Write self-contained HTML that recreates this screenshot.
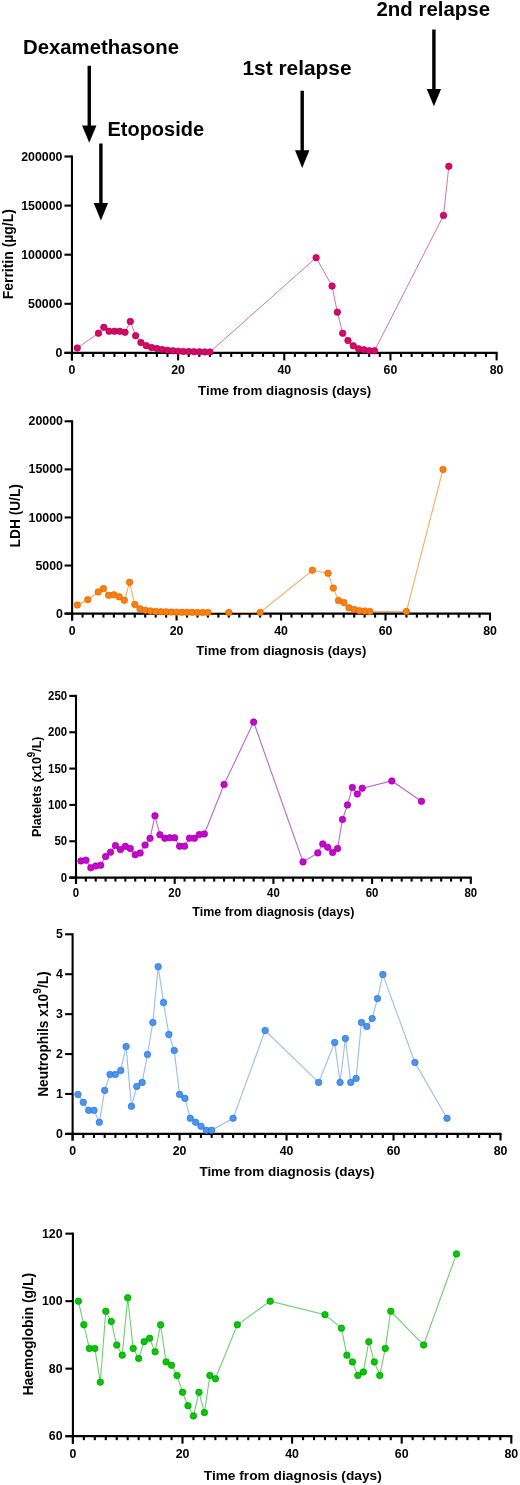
<!DOCTYPE html>
<html><head><meta charset="utf-8"><style>
html,body{margin:0;padding:0;background:#fff;}
svg{display:block;will-change:transform;}
text{font-family:"Liberation Sans",sans-serif;font-weight:bold;fill:#000;}
</style></head><body>
<svg width="520" height="1485" viewBox="0 0 520 1485">
<text x="23" y="53.8" font-size="19.5" text-anchor="start" textLength="156" lengthAdjust="spacingAndGlyphs">Dexamethasone</text>
<text x="107.5" y="136.25" font-size="19.5" text-anchor="start" textLength="96.5" lengthAdjust="spacingAndGlyphs">Etoposide</text>
<text x="242.5" y="75" font-size="19.5" text-anchor="start" textLength="109" lengthAdjust="spacingAndGlyphs">1st relapse</text>
<text x="376.5" y="15.5" font-size="19.5" text-anchor="start" textLength="113.5" lengthAdjust="spacingAndGlyphs">2nd relapse</text>
<rect x="87.55" y="65.75" width="3.4" height="60.85" fill="#000"/>
<polygon points="82.05,125.6 96.45,125.6 89.25,142.75" fill="#000"/>
<rect x="99.2" y="143.5" width="3.4" height="60.6" fill="#000"/>
<polygon points="93.7,203.1 108.1,203.1 100.9,220.6" fill="#000"/>
<rect x="300.5" y="90.75" width="3.4" height="60.5" fill="#000"/>
<polygon points="295,150.25 309.4,150.25 302.2,167.9" fill="#000"/>
<rect x="432.2" y="29.5" width="3.4" height="60.5" fill="#000"/>
<polygon points="426.7,89 441.1,89 433.9,106.25" fill="#000"/>
<line x1="71.95" y1="155.45" x2="71.95" y2="360.4" stroke="#000" stroke-width="2.1"/>
<line x1="64.45" y1="352.9" x2="497.65" y2="352.9" stroke="#000" stroke-width="2.1"/>
<line x1="64.45" y1="352.9" x2="71.95" y2="352.9" stroke="#000" stroke-width="2.1"/>
<text transform="translate(62.4,357) scale(1.03,1)" font-size="12" text-anchor="end">0</text>
<line x1="64.45" y1="303.8" x2="71.95" y2="303.8" stroke="#000" stroke-width="2.1"/>
<text transform="translate(62.4,307.9) scale(1.03,1)" font-size="12" text-anchor="end">50000</text>
<line x1="64.45" y1="254.7" x2="71.95" y2="254.7" stroke="#000" stroke-width="2.1"/>
<text transform="translate(62.4,258.8) scale(1.03,1)" font-size="12" text-anchor="end">100000</text>
<line x1="64.45" y1="205.6" x2="71.95" y2="205.6" stroke="#000" stroke-width="2.1"/>
<text transform="translate(62.4,209.7) scale(1.03,1)" font-size="12" text-anchor="end">150000</text>
<line x1="64.45" y1="156.5" x2="71.95" y2="156.5" stroke="#000" stroke-width="2.1"/>
<text transform="translate(62.4,160.6) scale(1.03,1)" font-size="12" text-anchor="end">200000</text>
<line x1="71.95" y1="352.9" x2="71.95" y2="360.4" stroke="#000" stroke-width="2.1"/>
<text transform="translate(71.95,374) scale(1.03,1)" font-size="12" text-anchor="middle">0</text>
<line x1="82.57" y1="352.9" x2="82.57" y2="356.9" stroke="#000" stroke-width="2.1"/>
<line x1="93.18" y1="352.9" x2="93.18" y2="356.9" stroke="#000" stroke-width="2.1"/>
<line x1="103.8" y1="352.9" x2="103.8" y2="356.9" stroke="#000" stroke-width="2.1"/>
<line x1="114.42" y1="352.9" x2="114.42" y2="356.9" stroke="#000" stroke-width="2.1"/>
<line x1="125.03" y1="352.9" x2="125.03" y2="356.9" stroke="#000" stroke-width="2.1"/>
<line x1="135.65" y1="352.9" x2="135.65" y2="356.9" stroke="#000" stroke-width="2.1"/>
<line x1="146.26" y1="352.9" x2="146.26" y2="356.9" stroke="#000" stroke-width="2.1"/>
<line x1="156.88" y1="352.9" x2="156.88" y2="356.9" stroke="#000" stroke-width="2.1"/>
<line x1="167.5" y1="352.9" x2="167.5" y2="356.9" stroke="#000" stroke-width="2.1"/>
<line x1="178.11" y1="352.9" x2="178.11" y2="360.4" stroke="#000" stroke-width="2.1"/>
<text transform="translate(178.11,374) scale(1.03,1)" font-size="12" text-anchor="middle">20</text>
<line x1="188.73" y1="352.9" x2="188.73" y2="356.9" stroke="#000" stroke-width="2.1"/>
<line x1="199.35" y1="352.9" x2="199.35" y2="356.9" stroke="#000" stroke-width="2.1"/>
<line x1="209.96" y1="352.9" x2="209.96" y2="356.9" stroke="#000" stroke-width="2.1"/>
<line x1="220.58" y1="352.9" x2="220.58" y2="356.9" stroke="#000" stroke-width="2.1"/>
<line x1="231.19" y1="352.9" x2="231.19" y2="356.9" stroke="#000" stroke-width="2.1"/>
<line x1="241.81" y1="352.9" x2="241.81" y2="356.9" stroke="#000" stroke-width="2.1"/>
<line x1="252.43" y1="352.9" x2="252.43" y2="356.9" stroke="#000" stroke-width="2.1"/>
<line x1="263.04" y1="352.9" x2="263.04" y2="356.9" stroke="#000" stroke-width="2.1"/>
<line x1="273.66" y1="352.9" x2="273.66" y2="356.9" stroke="#000" stroke-width="2.1"/>
<line x1="284.28" y1="352.9" x2="284.28" y2="360.4" stroke="#000" stroke-width="2.1"/>
<text transform="translate(284.28,374) scale(1.03,1)" font-size="12" text-anchor="middle">40</text>
<line x1="294.89" y1="352.9" x2="294.89" y2="356.9" stroke="#000" stroke-width="2.1"/>
<line x1="305.51" y1="352.9" x2="305.51" y2="356.9" stroke="#000" stroke-width="2.1"/>
<line x1="316.12" y1="352.9" x2="316.12" y2="356.9" stroke="#000" stroke-width="2.1"/>
<line x1="326.74" y1="352.9" x2="326.74" y2="356.9" stroke="#000" stroke-width="2.1"/>
<line x1="337.36" y1="352.9" x2="337.36" y2="356.9" stroke="#000" stroke-width="2.1"/>
<line x1="347.97" y1="352.9" x2="347.97" y2="356.9" stroke="#000" stroke-width="2.1"/>
<line x1="358.59" y1="352.9" x2="358.59" y2="356.9" stroke="#000" stroke-width="2.1"/>
<line x1="369.2" y1="352.9" x2="369.2" y2="356.9" stroke="#000" stroke-width="2.1"/>
<line x1="379.82" y1="352.9" x2="379.82" y2="356.9" stroke="#000" stroke-width="2.1"/>
<line x1="390.44" y1="352.9" x2="390.44" y2="360.4" stroke="#000" stroke-width="2.1"/>
<text transform="translate(390.44,374) scale(1.03,1)" font-size="12" text-anchor="middle">60</text>
<line x1="401.05" y1="352.9" x2="401.05" y2="356.9" stroke="#000" stroke-width="2.1"/>
<line x1="411.67" y1="352.9" x2="411.67" y2="356.9" stroke="#000" stroke-width="2.1"/>
<line x1="422.29" y1="352.9" x2="422.29" y2="356.9" stroke="#000" stroke-width="2.1"/>
<line x1="432.9" y1="352.9" x2="432.9" y2="356.9" stroke="#000" stroke-width="2.1"/>
<line x1="443.52" y1="352.9" x2="443.52" y2="356.9" stroke="#000" stroke-width="2.1"/>
<line x1="454.14" y1="352.9" x2="454.14" y2="356.9" stroke="#000" stroke-width="2.1"/>
<line x1="464.75" y1="352.9" x2="464.75" y2="356.9" stroke="#000" stroke-width="2.1"/>
<line x1="475.37" y1="352.9" x2="475.37" y2="356.9" stroke="#000" stroke-width="2.1"/>
<line x1="485.98" y1="352.9" x2="485.98" y2="356.9" stroke="#000" stroke-width="2.1"/>
<line x1="496.6" y1="352.9" x2="496.6" y2="360.4" stroke="#000" stroke-width="2.1"/>
<text transform="translate(496.6,374) scale(1.03,1)" font-size="12" text-anchor="middle">80</text>
<text x="198.1" y="394.5" font-size="13" text-anchor="start" textLength="173.2" lengthAdjust="spacingAndGlyphs">Time from diagnosis (days)</text>
<text transform="translate(12.9,299.3) rotate(-90)" font-size="14" textLength="90.2" lengthAdjust="spacingAndGlyphs">Ferritin (µg/L)</text>
<polyline points="77.26,347.99 98.49,333.26 103.8,327.37 109.11,331.3 114.42,331.3 119.72,331.3 125.03,332.28 130.34,321.48 135.65,335.71 140.96,342.59 146.26,345.63 151.57,347.5 156.88,348.48 162.19,349.46 167.5,350.25 172.8,350.74 178.11,351.13 183.42,351.43 188.73,351.62 194.04,351.72 199.35,351.82 204.65,351.92 209.96,352.02 316.12,257.65 332.05,286.12 337.36,312.15 342.66,333.26 347.97,340.62 353.28,345.83 358.59,348.78 363.9,349.66 369.2,350.74 374.51,350.74 443.52,215.42 448.83,166.32" fill="none" stroke="#d2739f" stroke-width="1"/>
<circle cx="77.26" cy="347.99" r="3.25" fill="#d8086a" stroke="#a3004e" stroke-width="0.7"/>
<circle cx="98.49" cy="333.26" r="3.25" fill="#d8086a" stroke="#a3004e" stroke-width="0.7"/>
<circle cx="103.8" cy="327.37" r="3.25" fill="#d8086a" stroke="#a3004e" stroke-width="0.7"/>
<circle cx="109.11" cy="331.3" r="3.25" fill="#d8086a" stroke="#a3004e" stroke-width="0.7"/>
<circle cx="114.42" cy="331.3" r="3.25" fill="#d8086a" stroke="#a3004e" stroke-width="0.7"/>
<circle cx="119.72" cy="331.3" r="3.25" fill="#d8086a" stroke="#a3004e" stroke-width="0.7"/>
<circle cx="125.03" cy="332.28" r="3.25" fill="#d8086a" stroke="#a3004e" stroke-width="0.7"/>
<circle cx="130.34" cy="321.48" r="3.25" fill="#d8086a" stroke="#a3004e" stroke-width="0.7"/>
<circle cx="135.65" cy="335.71" r="3.25" fill="#d8086a" stroke="#a3004e" stroke-width="0.7"/>
<circle cx="140.96" cy="342.59" r="3.25" fill="#d8086a" stroke="#a3004e" stroke-width="0.7"/>
<circle cx="146.26" cy="345.63" r="3.25" fill="#d8086a" stroke="#a3004e" stroke-width="0.7"/>
<circle cx="151.57" cy="347.5" r="3.25" fill="#d8086a" stroke="#a3004e" stroke-width="0.7"/>
<circle cx="156.88" cy="348.48" r="3.25" fill="#d8086a" stroke="#a3004e" stroke-width="0.7"/>
<circle cx="162.19" cy="349.46" r="3.25" fill="#d8086a" stroke="#a3004e" stroke-width="0.7"/>
<circle cx="167.5" cy="350.25" r="3.25" fill="#d8086a" stroke="#a3004e" stroke-width="0.7"/>
<circle cx="172.8" cy="350.74" r="3.25" fill="#d8086a" stroke="#a3004e" stroke-width="0.7"/>
<circle cx="178.11" cy="351.13" r="3.25" fill="#d8086a" stroke="#a3004e" stroke-width="0.7"/>
<circle cx="183.42" cy="351.43" r="3.25" fill="#d8086a" stroke="#a3004e" stroke-width="0.7"/>
<circle cx="188.73" cy="351.62" r="3.25" fill="#d8086a" stroke="#a3004e" stroke-width="0.7"/>
<circle cx="194.04" cy="351.72" r="3.25" fill="#d8086a" stroke="#a3004e" stroke-width="0.7"/>
<circle cx="199.35" cy="351.82" r="3.25" fill="#d8086a" stroke="#a3004e" stroke-width="0.7"/>
<circle cx="204.65" cy="351.92" r="3.25" fill="#d8086a" stroke="#a3004e" stroke-width="0.7"/>
<circle cx="209.96" cy="352.02" r="3.25" fill="#d8086a" stroke="#a3004e" stroke-width="0.7"/>
<circle cx="316.12" cy="257.65" r="3.25" fill="#d8086a" stroke="#a3004e" stroke-width="0.7"/>
<circle cx="332.05" cy="286.12" r="3.25" fill="#d8086a" stroke="#a3004e" stroke-width="0.7"/>
<circle cx="337.36" cy="312.15" r="3.25" fill="#d8086a" stroke="#a3004e" stroke-width="0.7"/>
<circle cx="342.66" cy="333.26" r="3.25" fill="#d8086a" stroke="#a3004e" stroke-width="0.7"/>
<circle cx="347.97" cy="340.62" r="3.25" fill="#d8086a" stroke="#a3004e" stroke-width="0.7"/>
<circle cx="353.28" cy="345.83" r="3.25" fill="#d8086a" stroke="#a3004e" stroke-width="0.7"/>
<circle cx="358.59" cy="348.78" r="3.25" fill="#d8086a" stroke="#a3004e" stroke-width="0.7"/>
<circle cx="363.9" cy="349.66" r="3.25" fill="#d8086a" stroke="#a3004e" stroke-width="0.7"/>
<circle cx="369.2" cy="350.74" r="3.25" fill="#d8086a" stroke="#a3004e" stroke-width="0.7"/>
<circle cx="374.51" cy="350.74" r="3.25" fill="#d8086a" stroke="#a3004e" stroke-width="0.7"/>
<circle cx="443.52" cy="215.42" r="3.25" fill="#d8086a" stroke="#a3004e" stroke-width="0.7"/>
<circle cx="448.83" cy="166.32" r="3.25" fill="#d8086a" stroke="#a3004e" stroke-width="0.7"/>
<line x1="72.1" y1="420.25" x2="72.1" y2="620.5" stroke="#000" stroke-width="2.1"/>
<line x1="64.6" y1="613.6" x2="491.05" y2="613.6" stroke="#000" stroke-width="2.1"/>
<line x1="64.6" y1="613.6" x2="72.1" y2="613.6" stroke="#000" stroke-width="2.1"/>
<text transform="translate(62.9,617.7) scale(1.03,1)" font-size="12" text-anchor="end">0</text>
<line x1="64.6" y1="565.52" x2="72.1" y2="565.52" stroke="#000" stroke-width="2.1"/>
<text transform="translate(62.9,569.62) scale(1.03,1)" font-size="12" text-anchor="end">5000</text>
<line x1="64.6" y1="517.45" x2="72.1" y2="517.45" stroke="#000" stroke-width="2.1"/>
<text transform="translate(62.9,521.55) scale(1.03,1)" font-size="12" text-anchor="end">10000</text>
<line x1="64.6" y1="469.38" x2="72.1" y2="469.38" stroke="#000" stroke-width="2.1"/>
<text transform="translate(62.9,473.48) scale(1.03,1)" font-size="12" text-anchor="end">15000</text>
<line x1="64.6" y1="421.3" x2="72.1" y2="421.3" stroke="#000" stroke-width="2.1"/>
<text transform="translate(62.9,425.4) scale(1.03,1)" font-size="12" text-anchor="end">20000</text>
<line x1="72.1" y1="613.6" x2="72.1" y2="620.5" stroke="#000" stroke-width="2.1"/>
<text transform="translate(72.1,634.7) scale(1.03,1)" font-size="12" text-anchor="middle">0</text>
<line x1="82.55" y1="613.6" x2="82.55" y2="617.6" stroke="#000" stroke-width="2.1"/>
<line x1="92.99" y1="613.6" x2="92.99" y2="617.6" stroke="#000" stroke-width="2.1"/>
<line x1="103.44" y1="613.6" x2="103.44" y2="617.6" stroke="#000" stroke-width="2.1"/>
<line x1="113.89" y1="613.6" x2="113.89" y2="617.6" stroke="#000" stroke-width="2.1"/>
<line x1="124.34" y1="613.6" x2="124.34" y2="617.6" stroke="#000" stroke-width="2.1"/>
<line x1="134.78" y1="613.6" x2="134.78" y2="617.6" stroke="#000" stroke-width="2.1"/>
<line x1="145.23" y1="613.6" x2="145.23" y2="617.6" stroke="#000" stroke-width="2.1"/>
<line x1="155.68" y1="613.6" x2="155.68" y2="617.6" stroke="#000" stroke-width="2.1"/>
<line x1="166.13" y1="613.6" x2="166.13" y2="617.6" stroke="#000" stroke-width="2.1"/>
<line x1="176.57" y1="613.6" x2="176.57" y2="620.5" stroke="#000" stroke-width="2.1"/>
<text transform="translate(176.57,634.7) scale(1.03,1)" font-size="12" text-anchor="middle">20</text>
<line x1="187.02" y1="613.6" x2="187.02" y2="617.6" stroke="#000" stroke-width="2.1"/>
<line x1="197.47" y1="613.6" x2="197.47" y2="617.6" stroke="#000" stroke-width="2.1"/>
<line x1="207.92" y1="613.6" x2="207.92" y2="617.6" stroke="#000" stroke-width="2.1"/>
<line x1="218.36" y1="613.6" x2="218.36" y2="617.6" stroke="#000" stroke-width="2.1"/>
<line x1="228.81" y1="613.6" x2="228.81" y2="617.6" stroke="#000" stroke-width="2.1"/>
<line x1="239.26" y1="613.6" x2="239.26" y2="617.6" stroke="#000" stroke-width="2.1"/>
<line x1="249.71" y1="613.6" x2="249.71" y2="617.6" stroke="#000" stroke-width="2.1"/>
<line x1="260.15" y1="613.6" x2="260.15" y2="617.6" stroke="#000" stroke-width="2.1"/>
<line x1="270.6" y1="613.6" x2="270.6" y2="617.6" stroke="#000" stroke-width="2.1"/>
<line x1="281.05" y1="613.6" x2="281.05" y2="620.5" stroke="#000" stroke-width="2.1"/>
<text transform="translate(281.05,634.7) scale(1.03,1)" font-size="12" text-anchor="middle">40</text>
<line x1="291.5" y1="613.6" x2="291.5" y2="617.6" stroke="#000" stroke-width="2.1"/>
<line x1="301.94" y1="613.6" x2="301.94" y2="617.6" stroke="#000" stroke-width="2.1"/>
<line x1="312.39" y1="613.6" x2="312.39" y2="617.6" stroke="#000" stroke-width="2.1"/>
<line x1="322.84" y1="613.6" x2="322.84" y2="617.6" stroke="#000" stroke-width="2.1"/>
<line x1="333.29" y1="613.6" x2="333.29" y2="617.6" stroke="#000" stroke-width="2.1"/>
<line x1="343.74" y1="613.6" x2="343.74" y2="617.6" stroke="#000" stroke-width="2.1"/>
<line x1="354.18" y1="613.6" x2="354.18" y2="617.6" stroke="#000" stroke-width="2.1"/>
<line x1="364.63" y1="613.6" x2="364.63" y2="617.6" stroke="#000" stroke-width="2.1"/>
<line x1="375.08" y1="613.6" x2="375.08" y2="617.6" stroke="#000" stroke-width="2.1"/>
<line x1="385.52" y1="613.6" x2="385.52" y2="620.5" stroke="#000" stroke-width="2.1"/>
<text transform="translate(385.52,634.7) scale(1.03,1)" font-size="12" text-anchor="middle">60</text>
<line x1="395.97" y1="613.6" x2="395.97" y2="617.6" stroke="#000" stroke-width="2.1"/>
<line x1="406.42" y1="613.6" x2="406.42" y2="617.6" stroke="#000" stroke-width="2.1"/>
<line x1="416.87" y1="613.6" x2="416.87" y2="617.6" stroke="#000" stroke-width="2.1"/>
<line x1="427.31" y1="613.6" x2="427.31" y2="617.6" stroke="#000" stroke-width="2.1"/>
<line x1="437.76" y1="613.6" x2="437.76" y2="617.6" stroke="#000" stroke-width="2.1"/>
<line x1="448.21" y1="613.6" x2="448.21" y2="617.6" stroke="#000" stroke-width="2.1"/>
<line x1="458.66" y1="613.6" x2="458.66" y2="617.6" stroke="#000" stroke-width="2.1"/>
<line x1="469.11" y1="613.6" x2="469.11" y2="617.6" stroke="#000" stroke-width="2.1"/>
<line x1="479.55" y1="613.6" x2="479.55" y2="617.6" stroke="#000" stroke-width="2.1"/>
<line x1="490" y1="613.6" x2="490" y2="620.5" stroke="#000" stroke-width="2.1"/>
<text transform="translate(490,634.7) scale(1.03,1)" font-size="12" text-anchor="middle">80</text>
<text x="196.25" y="655" font-size="13" text-anchor="start" textLength="170" lengthAdjust="spacingAndGlyphs">Time from diagnosis (days)</text>
<text transform="translate(20.4,547.4) rotate(-90)" font-size="14" textLength="63.3" lengthAdjust="spacingAndGlyphs">LDH (U/L)</text>
<polyline points="77.32,604.95 87.77,599.66 98.22,591.97 103.44,588.6 108.67,595.33 113.89,594.85 119.11,596.77 124.34,600.33 129.56,582.35 134.78,604.47 140.01,608.79 145.23,610.23 150.46,610.91 155.68,611.39 160.9,611.68 166.13,611.87 171.35,612.06 176.57,612.16 181.8,612.25 187.02,612.35 192.25,612.35 197.47,612.45 202.69,612.45 207.92,612.45 228.81,612.45 260.15,612.45 312.39,570.33 328.06,573.22 333.29,588.12 338.51,600.62 343.74,602.54 348.96,607.83 354.18,609.47 359.41,610.72 364.63,611 369.85,611.48 406.42,611.48 442.99,469.38" fill="none" stroke="#f4ac68" stroke-width="1.1"/>
<circle cx="77.32" cy="604.95" r="3.25" fill="#fd800f" stroke="#d96600" stroke-width="0.7"/>
<circle cx="87.77" cy="599.66" r="3.25" fill="#fd800f" stroke="#d96600" stroke-width="0.7"/>
<circle cx="98.22" cy="591.97" r="3.25" fill="#fd800f" stroke="#d96600" stroke-width="0.7"/>
<circle cx="103.44" cy="588.6" r="3.25" fill="#fd800f" stroke="#d96600" stroke-width="0.7"/>
<circle cx="108.67" cy="595.33" r="3.25" fill="#fd800f" stroke="#d96600" stroke-width="0.7"/>
<circle cx="113.89" cy="594.85" r="3.25" fill="#fd800f" stroke="#d96600" stroke-width="0.7"/>
<circle cx="119.11" cy="596.77" r="3.25" fill="#fd800f" stroke="#d96600" stroke-width="0.7"/>
<circle cx="124.34" cy="600.33" r="3.25" fill="#fd800f" stroke="#d96600" stroke-width="0.7"/>
<circle cx="129.56" cy="582.35" r="3.25" fill="#fd800f" stroke="#d96600" stroke-width="0.7"/>
<circle cx="134.78" cy="604.47" r="3.25" fill="#fd800f" stroke="#d96600" stroke-width="0.7"/>
<circle cx="140.01" cy="608.79" r="3.25" fill="#fd800f" stroke="#d96600" stroke-width="0.7"/>
<circle cx="145.23" cy="610.23" r="3.25" fill="#fd800f" stroke="#d96600" stroke-width="0.7"/>
<circle cx="150.46" cy="610.91" r="3.25" fill="#fd800f" stroke="#d96600" stroke-width="0.7"/>
<circle cx="155.68" cy="611.39" r="3.25" fill="#fd800f" stroke="#d96600" stroke-width="0.7"/>
<circle cx="160.9" cy="611.68" r="3.25" fill="#fd800f" stroke="#d96600" stroke-width="0.7"/>
<circle cx="166.13" cy="611.87" r="3.25" fill="#fd800f" stroke="#d96600" stroke-width="0.7"/>
<circle cx="171.35" cy="612.06" r="3.25" fill="#fd800f" stroke="#d96600" stroke-width="0.7"/>
<circle cx="176.57" cy="612.16" r="3.25" fill="#fd800f" stroke="#d96600" stroke-width="0.7"/>
<circle cx="181.8" cy="612.25" r="3.25" fill="#fd800f" stroke="#d96600" stroke-width="0.7"/>
<circle cx="187.02" cy="612.35" r="3.25" fill="#fd800f" stroke="#d96600" stroke-width="0.7"/>
<circle cx="192.25" cy="612.35" r="3.25" fill="#fd800f" stroke="#d96600" stroke-width="0.7"/>
<circle cx="197.47" cy="612.45" r="3.25" fill="#fd800f" stroke="#d96600" stroke-width="0.7"/>
<circle cx="202.69" cy="612.45" r="3.25" fill="#fd800f" stroke="#d96600" stroke-width="0.7"/>
<circle cx="207.92" cy="612.45" r="3.25" fill="#fd800f" stroke="#d96600" stroke-width="0.7"/>
<circle cx="228.81" cy="612.45" r="3.25" fill="#fd800f" stroke="#d96600" stroke-width="0.7"/>
<circle cx="260.15" cy="612.45" r="3.25" fill="#fd800f" stroke="#d96600" stroke-width="0.7"/>
<circle cx="312.39" cy="570.33" r="3.25" fill="#fd800f" stroke="#d96600" stroke-width="0.7"/>
<circle cx="328.06" cy="573.22" r="3.25" fill="#fd800f" stroke="#d96600" stroke-width="0.7"/>
<circle cx="333.29" cy="588.12" r="3.25" fill="#fd800f" stroke="#d96600" stroke-width="0.7"/>
<circle cx="338.51" cy="600.62" r="3.25" fill="#fd800f" stroke="#d96600" stroke-width="0.7"/>
<circle cx="343.74" cy="602.54" r="3.25" fill="#fd800f" stroke="#d96600" stroke-width="0.7"/>
<circle cx="348.96" cy="607.83" r="3.25" fill="#fd800f" stroke="#d96600" stroke-width="0.7"/>
<circle cx="354.18" cy="609.47" r="3.25" fill="#fd800f" stroke="#d96600" stroke-width="0.7"/>
<circle cx="359.41" cy="610.72" r="3.25" fill="#fd800f" stroke="#d96600" stroke-width="0.7"/>
<circle cx="364.63" cy="611" r="3.25" fill="#fd800f" stroke="#d96600" stroke-width="0.7"/>
<circle cx="369.85" cy="611.48" r="3.25" fill="#fd800f" stroke="#d96600" stroke-width="0.7"/>
<circle cx="406.42" cy="611.48" r="3.25" fill="#fd800f" stroke="#d96600" stroke-width="0.7"/>
<circle cx="442.99" cy="469.38" r="3.25" fill="#fd800f" stroke="#d96600" stroke-width="0.7"/>
<line x1="76" y1="694.85" x2="76" y2="883.9" stroke="#000" stroke-width="2.1"/>
<line x1="69.3" y1="877.6" x2="471.85" y2="877.6" stroke="#000" stroke-width="2.1"/>
<line x1="69.3" y1="877.6" x2="76" y2="877.6" stroke="#000" stroke-width="2.1"/>
<text transform="translate(67.1,881.7) scale(0.95,1)" font-size="12" text-anchor="end">0</text>
<line x1="69.3" y1="841.26" x2="76" y2="841.26" stroke="#000" stroke-width="2.1"/>
<text transform="translate(67.1,845.36) scale(0.95,1)" font-size="12" text-anchor="end">50</text>
<line x1="69.3" y1="804.92" x2="76" y2="804.92" stroke="#000" stroke-width="2.1"/>
<text transform="translate(67.1,809.02) scale(0.95,1)" font-size="12" text-anchor="end">100</text>
<line x1="69.3" y1="768.58" x2="76" y2="768.58" stroke="#000" stroke-width="2.1"/>
<text transform="translate(67.1,772.68) scale(0.95,1)" font-size="12" text-anchor="end">150</text>
<line x1="69.3" y1="732.24" x2="76" y2="732.24" stroke="#000" stroke-width="2.1"/>
<text transform="translate(67.1,736.34) scale(0.95,1)" font-size="12" text-anchor="end">200</text>
<line x1="69.3" y1="695.9" x2="76" y2="695.9" stroke="#000" stroke-width="2.1"/>
<text transform="translate(67.1,700) scale(0.95,1)" font-size="12" text-anchor="end">250</text>
<line x1="76" y1="877.6" x2="76" y2="883.9" stroke="#000" stroke-width="2.1"/>
<text transform="translate(76,897.3) scale(0.95,1)" font-size="12" text-anchor="middle">0</text>
<line x1="85.87" y1="877.6" x2="85.87" y2="881.6" stroke="#000" stroke-width="2.1"/>
<line x1="95.74" y1="877.6" x2="95.74" y2="881.6" stroke="#000" stroke-width="2.1"/>
<line x1="105.61" y1="877.6" x2="105.61" y2="881.6" stroke="#000" stroke-width="2.1"/>
<line x1="115.48" y1="877.6" x2="115.48" y2="881.6" stroke="#000" stroke-width="2.1"/>
<line x1="125.35" y1="877.6" x2="125.35" y2="881.6" stroke="#000" stroke-width="2.1"/>
<line x1="135.22" y1="877.6" x2="135.22" y2="881.6" stroke="#000" stroke-width="2.1"/>
<line x1="145.09" y1="877.6" x2="145.09" y2="881.6" stroke="#000" stroke-width="2.1"/>
<line x1="154.96" y1="877.6" x2="154.96" y2="881.6" stroke="#000" stroke-width="2.1"/>
<line x1="164.83" y1="877.6" x2="164.83" y2="881.6" stroke="#000" stroke-width="2.1"/>
<line x1="174.7" y1="877.6" x2="174.7" y2="883.9" stroke="#000" stroke-width="2.1"/>
<text transform="translate(174.7,897.3) scale(0.95,1)" font-size="12" text-anchor="middle">20</text>
<line x1="184.57" y1="877.6" x2="184.57" y2="881.6" stroke="#000" stroke-width="2.1"/>
<line x1="194.44" y1="877.6" x2="194.44" y2="881.6" stroke="#000" stroke-width="2.1"/>
<line x1="204.31" y1="877.6" x2="204.31" y2="881.6" stroke="#000" stroke-width="2.1"/>
<line x1="214.18" y1="877.6" x2="214.18" y2="881.6" stroke="#000" stroke-width="2.1"/>
<line x1="224.05" y1="877.6" x2="224.05" y2="881.6" stroke="#000" stroke-width="2.1"/>
<line x1="233.92" y1="877.6" x2="233.92" y2="881.6" stroke="#000" stroke-width="2.1"/>
<line x1="243.79" y1="877.6" x2="243.79" y2="881.6" stroke="#000" stroke-width="2.1"/>
<line x1="253.66" y1="877.6" x2="253.66" y2="881.6" stroke="#000" stroke-width="2.1"/>
<line x1="263.53" y1="877.6" x2="263.53" y2="881.6" stroke="#000" stroke-width="2.1"/>
<line x1="273.4" y1="877.6" x2="273.4" y2="883.9" stroke="#000" stroke-width="2.1"/>
<text transform="translate(273.4,897.3) scale(0.95,1)" font-size="12" text-anchor="middle">40</text>
<line x1="283.27" y1="877.6" x2="283.27" y2="881.6" stroke="#000" stroke-width="2.1"/>
<line x1="293.14" y1="877.6" x2="293.14" y2="881.6" stroke="#000" stroke-width="2.1"/>
<line x1="303.01" y1="877.6" x2="303.01" y2="881.6" stroke="#000" stroke-width="2.1"/>
<line x1="312.88" y1="877.6" x2="312.88" y2="881.6" stroke="#000" stroke-width="2.1"/>
<line x1="322.75" y1="877.6" x2="322.75" y2="881.6" stroke="#000" stroke-width="2.1"/>
<line x1="332.62" y1="877.6" x2="332.62" y2="881.6" stroke="#000" stroke-width="2.1"/>
<line x1="342.49" y1="877.6" x2="342.49" y2="881.6" stroke="#000" stroke-width="2.1"/>
<line x1="352.36" y1="877.6" x2="352.36" y2="881.6" stroke="#000" stroke-width="2.1"/>
<line x1="362.23" y1="877.6" x2="362.23" y2="881.6" stroke="#000" stroke-width="2.1"/>
<line x1="372.1" y1="877.6" x2="372.1" y2="883.9" stroke="#000" stroke-width="2.1"/>
<text transform="translate(372.1,897.3) scale(0.95,1)" font-size="12" text-anchor="middle">60</text>
<line x1="381.97" y1="877.6" x2="381.97" y2="881.6" stroke="#000" stroke-width="2.1"/>
<line x1="391.84" y1="877.6" x2="391.84" y2="881.6" stroke="#000" stroke-width="2.1"/>
<line x1="401.71" y1="877.6" x2="401.71" y2="881.6" stroke="#000" stroke-width="2.1"/>
<line x1="411.58" y1="877.6" x2="411.58" y2="881.6" stroke="#000" stroke-width="2.1"/>
<line x1="421.45" y1="877.6" x2="421.45" y2="881.6" stroke="#000" stroke-width="2.1"/>
<line x1="431.32" y1="877.6" x2="431.32" y2="881.6" stroke="#000" stroke-width="2.1"/>
<line x1="441.19" y1="877.6" x2="441.19" y2="881.6" stroke="#000" stroke-width="2.1"/>
<line x1="451.06" y1="877.6" x2="451.06" y2="881.6" stroke="#000" stroke-width="2.1"/>
<line x1="460.93" y1="877.6" x2="460.93" y2="881.6" stroke="#000" stroke-width="2.1"/>
<line x1="470.8" y1="877.6" x2="470.8" y2="883.9" stroke="#000" stroke-width="2.1"/>
<text transform="translate(470.8,897.3) scale(0.95,1)" font-size="12" text-anchor="middle">80</text>
<text x="192.3" y="916.2" font-size="13" text-anchor="start" textLength="162" lengthAdjust="spacingAndGlyphs">Time from diagnosis (days)</text>
<text transform="translate(40.8,837) rotate(-90)" font-size="13.5" textLength="100.5" lengthAdjust="spacingAndGlyphs">Platelets (x10<tspan font-size="10.5" dy="-6.3">9</tspan><tspan dy="6.3">/L)</tspan></text>
<polyline points="80.94,860.88 85.87,860.16 90.81,867.79 95.74,865.97 100.68,865.24 105.61,856.52 110.55,852.16 115.48,845.62 120.42,849.62 125.35,846.35 130.28,848.53 135.22,854.71 140.16,853.03 145.09,845.04 150.03,838.35 154.96,815.82 159.9,834.72 164.83,838.35 169.77,837.84 174.7,837.84 179.63,846.2 184.57,846.13 189.5,838.13 194.44,838.35 199.38,834.57 204.31,833.99 224.05,784.57 253.66,722.06 303.01,861.9 317.82,852.89 322.75,843.88 327.69,847.29 332.62,852.38 337.56,848.53 342.49,819.46 347.43,804.92 352.36,787.48 357.3,794.02 362.23,788.2 391.84,780.94 421.45,801.29" fill="none" stroke="#bf66c8" stroke-width="1.1"/>
<circle cx="80.94" cy="860.88" r="3.25" fill="#c804d0" stroke="#9a00a0" stroke-width="0.7"/>
<circle cx="85.87" cy="860.16" r="3.25" fill="#c804d0" stroke="#9a00a0" stroke-width="0.7"/>
<circle cx="90.81" cy="867.79" r="3.25" fill="#c804d0" stroke="#9a00a0" stroke-width="0.7"/>
<circle cx="95.74" cy="865.97" r="3.25" fill="#c804d0" stroke="#9a00a0" stroke-width="0.7"/>
<circle cx="100.68" cy="865.24" r="3.25" fill="#c804d0" stroke="#9a00a0" stroke-width="0.7"/>
<circle cx="105.61" cy="856.52" r="3.25" fill="#c804d0" stroke="#9a00a0" stroke-width="0.7"/>
<circle cx="110.55" cy="852.16" r="3.25" fill="#c804d0" stroke="#9a00a0" stroke-width="0.7"/>
<circle cx="115.48" cy="845.62" r="3.25" fill="#c804d0" stroke="#9a00a0" stroke-width="0.7"/>
<circle cx="120.42" cy="849.62" r="3.25" fill="#c804d0" stroke="#9a00a0" stroke-width="0.7"/>
<circle cx="125.35" cy="846.35" r="3.25" fill="#c804d0" stroke="#9a00a0" stroke-width="0.7"/>
<circle cx="130.28" cy="848.53" r="3.25" fill="#c804d0" stroke="#9a00a0" stroke-width="0.7"/>
<circle cx="135.22" cy="854.71" r="3.25" fill="#c804d0" stroke="#9a00a0" stroke-width="0.7"/>
<circle cx="140.16" cy="853.03" r="3.25" fill="#c804d0" stroke="#9a00a0" stroke-width="0.7"/>
<circle cx="145.09" cy="845.04" r="3.25" fill="#c804d0" stroke="#9a00a0" stroke-width="0.7"/>
<circle cx="150.03" cy="838.35" r="3.25" fill="#c804d0" stroke="#9a00a0" stroke-width="0.7"/>
<circle cx="154.96" cy="815.82" r="3.25" fill="#c804d0" stroke="#9a00a0" stroke-width="0.7"/>
<circle cx="159.9" cy="834.72" r="3.25" fill="#c804d0" stroke="#9a00a0" stroke-width="0.7"/>
<circle cx="164.83" cy="838.35" r="3.25" fill="#c804d0" stroke="#9a00a0" stroke-width="0.7"/>
<circle cx="169.77" cy="837.84" r="3.25" fill="#c804d0" stroke="#9a00a0" stroke-width="0.7"/>
<circle cx="174.7" cy="837.84" r="3.25" fill="#c804d0" stroke="#9a00a0" stroke-width="0.7"/>
<circle cx="179.63" cy="846.2" r="3.25" fill="#c804d0" stroke="#9a00a0" stroke-width="0.7"/>
<circle cx="184.57" cy="846.13" r="3.25" fill="#c804d0" stroke="#9a00a0" stroke-width="0.7"/>
<circle cx="189.5" cy="838.13" r="3.25" fill="#c804d0" stroke="#9a00a0" stroke-width="0.7"/>
<circle cx="194.44" cy="838.35" r="3.25" fill="#c804d0" stroke="#9a00a0" stroke-width="0.7"/>
<circle cx="199.38" cy="834.57" r="3.25" fill="#c804d0" stroke="#9a00a0" stroke-width="0.7"/>
<circle cx="204.31" cy="833.99" r="3.25" fill="#c804d0" stroke="#9a00a0" stroke-width="0.7"/>
<circle cx="224.05" cy="784.57" r="3.25" fill="#c804d0" stroke="#9a00a0" stroke-width="0.7"/>
<circle cx="253.66" cy="722.06" r="3.25" fill="#c804d0" stroke="#9a00a0" stroke-width="0.7"/>
<circle cx="303.01" cy="861.9" r="3.25" fill="#c804d0" stroke="#9a00a0" stroke-width="0.7"/>
<circle cx="317.82" cy="852.89" r="3.25" fill="#c804d0" stroke="#9a00a0" stroke-width="0.7"/>
<circle cx="322.75" cy="843.88" r="3.25" fill="#c804d0" stroke="#9a00a0" stroke-width="0.7"/>
<circle cx="327.69" cy="847.29" r="3.25" fill="#c804d0" stroke="#9a00a0" stroke-width="0.7"/>
<circle cx="332.62" cy="852.38" r="3.25" fill="#c804d0" stroke="#9a00a0" stroke-width="0.7"/>
<circle cx="337.56" cy="848.53" r="3.25" fill="#c804d0" stroke="#9a00a0" stroke-width="0.7"/>
<circle cx="342.49" cy="819.46" r="3.25" fill="#c804d0" stroke="#9a00a0" stroke-width="0.7"/>
<circle cx="347.43" cy="804.92" r="3.25" fill="#c804d0" stroke="#9a00a0" stroke-width="0.7"/>
<circle cx="352.36" cy="787.48" r="3.25" fill="#c804d0" stroke="#9a00a0" stroke-width="0.7"/>
<circle cx="357.3" cy="794.02" r="3.25" fill="#c804d0" stroke="#9a00a0" stroke-width="0.7"/>
<circle cx="362.23" cy="788.2" r="3.25" fill="#c804d0" stroke="#9a00a0" stroke-width="0.7"/>
<circle cx="391.84" cy="780.94" r="3.25" fill="#c804d0" stroke="#9a00a0" stroke-width="0.7"/>
<circle cx="421.45" cy="801.29" r="3.25" fill="#c804d0" stroke="#9a00a0" stroke-width="0.7"/>
<line x1="72.6" y1="933.25" x2="72.6" y2="1140.5" stroke="#000" stroke-width="2.1"/>
<line x1="65.1" y1="1133.9" x2="501.55" y2="1133.9" stroke="#000" stroke-width="2.1"/>
<line x1="65.1" y1="1133.9" x2="72.6" y2="1133.9" stroke="#000" stroke-width="2.1"/>
<text transform="translate(62.8,1138) scale(1.03,1)" font-size="12" text-anchor="end">0</text>
<line x1="65.1" y1="1093.98" x2="72.6" y2="1093.98" stroke="#000" stroke-width="2.1"/>
<text transform="translate(62.8,1098.08) scale(1.03,1)" font-size="12" text-anchor="end">1</text>
<line x1="65.1" y1="1054.06" x2="72.6" y2="1054.06" stroke="#000" stroke-width="2.1"/>
<text transform="translate(62.8,1058.16) scale(1.03,1)" font-size="12" text-anchor="end">2</text>
<line x1="65.1" y1="1014.14" x2="72.6" y2="1014.14" stroke="#000" stroke-width="2.1"/>
<text transform="translate(62.8,1018.24) scale(1.03,1)" font-size="12" text-anchor="end">3</text>
<line x1="65.1" y1="974.22" x2="72.6" y2="974.22" stroke="#000" stroke-width="2.1"/>
<text transform="translate(62.8,978.32) scale(1.03,1)" font-size="12" text-anchor="end">4</text>
<line x1="65.1" y1="934.3" x2="72.6" y2="934.3" stroke="#000" stroke-width="2.1"/>
<text transform="translate(62.8,938.4) scale(1.03,1)" font-size="12" text-anchor="end">5</text>
<line x1="72.6" y1="1133.9" x2="72.6" y2="1140.5" stroke="#000" stroke-width="2.1"/>
<text transform="translate(72.6,1155.1) scale(1.03,1)" font-size="12" text-anchor="middle">0</text>
<line x1="83.3" y1="1133.9" x2="83.3" y2="1137.9" stroke="#000" stroke-width="2.1"/>
<line x1="93.99" y1="1133.9" x2="93.99" y2="1137.9" stroke="#000" stroke-width="2.1"/>
<line x1="104.69" y1="1133.9" x2="104.69" y2="1137.9" stroke="#000" stroke-width="2.1"/>
<line x1="115.39" y1="1133.9" x2="115.39" y2="1137.9" stroke="#000" stroke-width="2.1"/>
<line x1="126.09" y1="1133.9" x2="126.09" y2="1137.9" stroke="#000" stroke-width="2.1"/>
<line x1="136.78" y1="1133.9" x2="136.78" y2="1137.9" stroke="#000" stroke-width="2.1"/>
<line x1="147.48" y1="1133.9" x2="147.48" y2="1137.9" stroke="#000" stroke-width="2.1"/>
<line x1="158.18" y1="1133.9" x2="158.18" y2="1137.9" stroke="#000" stroke-width="2.1"/>
<line x1="168.88" y1="1133.9" x2="168.88" y2="1137.9" stroke="#000" stroke-width="2.1"/>
<line x1="179.57" y1="1133.9" x2="179.57" y2="1140.5" stroke="#000" stroke-width="2.1"/>
<text transform="translate(179.57,1155.1) scale(1.03,1)" font-size="12" text-anchor="middle">20</text>
<line x1="190.27" y1="1133.9" x2="190.27" y2="1137.9" stroke="#000" stroke-width="2.1"/>
<line x1="200.97" y1="1133.9" x2="200.97" y2="1137.9" stroke="#000" stroke-width="2.1"/>
<line x1="211.67" y1="1133.9" x2="211.67" y2="1137.9" stroke="#000" stroke-width="2.1"/>
<line x1="222.36" y1="1133.9" x2="222.36" y2="1137.9" stroke="#000" stroke-width="2.1"/>
<line x1="233.06" y1="1133.9" x2="233.06" y2="1137.9" stroke="#000" stroke-width="2.1"/>
<line x1="243.76" y1="1133.9" x2="243.76" y2="1137.9" stroke="#000" stroke-width="2.1"/>
<line x1="254.46" y1="1133.9" x2="254.46" y2="1137.9" stroke="#000" stroke-width="2.1"/>
<line x1="265.15" y1="1133.9" x2="265.15" y2="1137.9" stroke="#000" stroke-width="2.1"/>
<line x1="275.85" y1="1133.9" x2="275.85" y2="1137.9" stroke="#000" stroke-width="2.1"/>
<line x1="286.55" y1="1133.9" x2="286.55" y2="1140.5" stroke="#000" stroke-width="2.1"/>
<text transform="translate(286.55,1155.1) scale(1.03,1)" font-size="12" text-anchor="middle">40</text>
<line x1="297.25" y1="1133.9" x2="297.25" y2="1137.9" stroke="#000" stroke-width="2.1"/>
<line x1="307.94" y1="1133.9" x2="307.94" y2="1137.9" stroke="#000" stroke-width="2.1"/>
<line x1="318.64" y1="1133.9" x2="318.64" y2="1137.9" stroke="#000" stroke-width="2.1"/>
<line x1="329.34" y1="1133.9" x2="329.34" y2="1137.9" stroke="#000" stroke-width="2.1"/>
<line x1="340.04" y1="1133.9" x2="340.04" y2="1137.9" stroke="#000" stroke-width="2.1"/>
<line x1="350.74" y1="1133.9" x2="350.74" y2="1137.9" stroke="#000" stroke-width="2.1"/>
<line x1="361.43" y1="1133.9" x2="361.43" y2="1137.9" stroke="#000" stroke-width="2.1"/>
<line x1="372.13" y1="1133.9" x2="372.13" y2="1137.9" stroke="#000" stroke-width="2.1"/>
<line x1="382.83" y1="1133.9" x2="382.83" y2="1137.9" stroke="#000" stroke-width="2.1"/>
<line x1="393.52" y1="1133.9" x2="393.52" y2="1140.5" stroke="#000" stroke-width="2.1"/>
<text transform="translate(393.52,1155.1) scale(1.03,1)" font-size="12" text-anchor="middle">60</text>
<line x1="404.22" y1="1133.9" x2="404.22" y2="1137.9" stroke="#000" stroke-width="2.1"/>
<line x1="414.92" y1="1133.9" x2="414.92" y2="1137.9" stroke="#000" stroke-width="2.1"/>
<line x1="425.62" y1="1133.9" x2="425.62" y2="1137.9" stroke="#000" stroke-width="2.1"/>
<line x1="436.31" y1="1133.9" x2="436.31" y2="1137.9" stroke="#000" stroke-width="2.1"/>
<line x1="447.01" y1="1133.9" x2="447.01" y2="1137.9" stroke="#000" stroke-width="2.1"/>
<line x1="457.71" y1="1133.9" x2="457.71" y2="1137.9" stroke="#000" stroke-width="2.1"/>
<line x1="468.41" y1="1133.9" x2="468.41" y2="1137.9" stroke="#000" stroke-width="2.1"/>
<line x1="479.11" y1="1133.9" x2="479.11" y2="1137.9" stroke="#000" stroke-width="2.1"/>
<line x1="489.8" y1="1133.9" x2="489.8" y2="1137.9" stroke="#000" stroke-width="2.1"/>
<line x1="500.5" y1="1133.9" x2="500.5" y2="1140.5" stroke="#000" stroke-width="2.1"/>
<text transform="translate(500.5,1155.1) scale(1.03,1)" font-size="12" text-anchor="middle">80</text>
<text x="199.4" y="1175.6" font-size="13" text-anchor="start" textLength="175" lengthAdjust="spacingAndGlyphs">Time from diagnosis (days)</text>
<text transform="translate(47.6,1096.8) rotate(-90)" font-size="14" textLength="125.5" lengthAdjust="spacingAndGlyphs">Neutrophils x10<tspan font-size="10.5" dy="-6.3">9</tspan><tspan dy="6.3">/L)</tspan></text>
<polyline points="77.95,1094.38 83.3,1102.36 88.65,1110.35 93.99,1110.35 99.34,1122.32 104.69,1090.39 110.04,1074.42 115.39,1074.42 120.74,1070.43 126.09,1046.48 131.44,1106.36 136.78,1086.4 142.13,1082.4 147.48,1054.46 152.83,1022.52 158.18,966.64 163.53,1002.56 168.88,1034.5 174.23,1050.47 179.57,1094.38 184.92,1098.37 190.27,1118.33 195.62,1122.32 200.97,1126.32 206.32,1130.31 211.67,1130.31 233.06,1118.33 265.15,1030.51 318.64,1082.4 334.69,1042.48 340.04,1082.4 345.39,1038.49 350.74,1082.4 356.08,1078.41 361.43,1022.52 366.78,1026.52 372.13,1018.53 377.48,998.57 382.83,974.62 414.92,1062.44 447.01,1118.33" fill="none" stroke="#98bdea" stroke-width="1.1"/>
<circle cx="77.95" cy="1094.38" r="3.25" fill="#4996f2" stroke="#2f72c8" stroke-width="0.7"/>
<circle cx="83.3" cy="1102.36" r="3.25" fill="#4996f2" stroke="#2f72c8" stroke-width="0.7"/>
<circle cx="88.65" cy="1110.35" r="3.25" fill="#4996f2" stroke="#2f72c8" stroke-width="0.7"/>
<circle cx="93.99" cy="1110.35" r="3.25" fill="#4996f2" stroke="#2f72c8" stroke-width="0.7"/>
<circle cx="99.34" cy="1122.32" r="3.25" fill="#4996f2" stroke="#2f72c8" stroke-width="0.7"/>
<circle cx="104.69" cy="1090.39" r="3.25" fill="#4996f2" stroke="#2f72c8" stroke-width="0.7"/>
<circle cx="110.04" cy="1074.42" r="3.25" fill="#4996f2" stroke="#2f72c8" stroke-width="0.7"/>
<circle cx="115.39" cy="1074.42" r="3.25" fill="#4996f2" stroke="#2f72c8" stroke-width="0.7"/>
<circle cx="120.74" cy="1070.43" r="3.25" fill="#4996f2" stroke="#2f72c8" stroke-width="0.7"/>
<circle cx="126.09" cy="1046.48" r="3.25" fill="#4996f2" stroke="#2f72c8" stroke-width="0.7"/>
<circle cx="131.44" cy="1106.36" r="3.25" fill="#4996f2" stroke="#2f72c8" stroke-width="0.7"/>
<circle cx="136.78" cy="1086.4" r="3.25" fill="#4996f2" stroke="#2f72c8" stroke-width="0.7"/>
<circle cx="142.13" cy="1082.4" r="3.25" fill="#4996f2" stroke="#2f72c8" stroke-width="0.7"/>
<circle cx="147.48" cy="1054.46" r="3.25" fill="#4996f2" stroke="#2f72c8" stroke-width="0.7"/>
<circle cx="152.83" cy="1022.52" r="3.25" fill="#4996f2" stroke="#2f72c8" stroke-width="0.7"/>
<circle cx="158.18" cy="966.64" r="3.25" fill="#4996f2" stroke="#2f72c8" stroke-width="0.7"/>
<circle cx="163.53" cy="1002.56" r="3.25" fill="#4996f2" stroke="#2f72c8" stroke-width="0.7"/>
<circle cx="168.88" cy="1034.5" r="3.25" fill="#4996f2" stroke="#2f72c8" stroke-width="0.7"/>
<circle cx="174.23" cy="1050.47" r="3.25" fill="#4996f2" stroke="#2f72c8" stroke-width="0.7"/>
<circle cx="179.57" cy="1094.38" r="3.25" fill="#4996f2" stroke="#2f72c8" stroke-width="0.7"/>
<circle cx="184.92" cy="1098.37" r="3.25" fill="#4996f2" stroke="#2f72c8" stroke-width="0.7"/>
<circle cx="190.27" cy="1118.33" r="3.25" fill="#4996f2" stroke="#2f72c8" stroke-width="0.7"/>
<circle cx="195.62" cy="1122.32" r="3.25" fill="#4996f2" stroke="#2f72c8" stroke-width="0.7"/>
<circle cx="200.97" cy="1126.32" r="3.25" fill="#4996f2" stroke="#2f72c8" stroke-width="0.7"/>
<circle cx="206.32" cy="1130.31" r="3.25" fill="#4996f2" stroke="#2f72c8" stroke-width="0.7"/>
<circle cx="211.67" cy="1130.31" r="3.25" fill="#4996f2" stroke="#2f72c8" stroke-width="0.7"/>
<circle cx="233.06" cy="1118.33" r="3.25" fill="#4996f2" stroke="#2f72c8" stroke-width="0.7"/>
<circle cx="265.15" cy="1030.51" r="3.25" fill="#4996f2" stroke="#2f72c8" stroke-width="0.7"/>
<circle cx="318.64" cy="1082.4" r="3.25" fill="#4996f2" stroke="#2f72c8" stroke-width="0.7"/>
<circle cx="334.69" cy="1042.48" r="3.25" fill="#4996f2" stroke="#2f72c8" stroke-width="0.7"/>
<circle cx="340.04" cy="1082.4" r="3.25" fill="#4996f2" stroke="#2f72c8" stroke-width="0.7"/>
<circle cx="345.39" cy="1038.49" r="3.25" fill="#4996f2" stroke="#2f72c8" stroke-width="0.7"/>
<circle cx="350.74" cy="1082.4" r="3.25" fill="#4996f2" stroke="#2f72c8" stroke-width="0.7"/>
<circle cx="356.08" cy="1078.41" r="3.25" fill="#4996f2" stroke="#2f72c8" stroke-width="0.7"/>
<circle cx="361.43" cy="1022.52" r="3.25" fill="#4996f2" stroke="#2f72c8" stroke-width="0.7"/>
<circle cx="366.78" cy="1026.52" r="3.25" fill="#4996f2" stroke="#2f72c8" stroke-width="0.7"/>
<circle cx="372.13" cy="1018.53" r="3.25" fill="#4996f2" stroke="#2f72c8" stroke-width="0.7"/>
<circle cx="377.48" cy="998.57" r="3.25" fill="#4996f2" stroke="#2f72c8" stroke-width="0.7"/>
<circle cx="382.83" cy="974.62" r="3.25" fill="#4996f2" stroke="#2f72c8" stroke-width="0.7"/>
<circle cx="414.92" cy="1062.44" r="3.25" fill="#4996f2" stroke="#2f72c8" stroke-width="0.7"/>
<circle cx="447.01" cy="1118.33" r="3.25" fill="#4996f2" stroke="#2f72c8" stroke-width="0.7"/>
<line x1="72.9" y1="1232.6" x2="72.9" y2="1443.65" stroke="#000" stroke-width="2.1"/>
<line x1="65.4" y1="1436.15" x2="512.35" y2="1436.15" stroke="#000" stroke-width="2.1"/>
<line x1="65.4" y1="1436.15" x2="72.9" y2="1436.15" stroke="#000" stroke-width="2.1"/>
<text transform="translate(62.6,1440.25) scale(1.03,1)" font-size="12" text-anchor="end">60</text>
<line x1="65.4" y1="1368.65" x2="72.9" y2="1368.65" stroke="#000" stroke-width="2.1"/>
<text transform="translate(62.6,1372.75) scale(1.03,1)" font-size="12" text-anchor="end">80</text>
<line x1="65.4" y1="1301.15" x2="72.9" y2="1301.15" stroke="#000" stroke-width="2.1"/>
<text transform="translate(62.6,1305.25) scale(1.03,1)" font-size="12" text-anchor="end">100</text>
<line x1="65.4" y1="1233.65" x2="72.9" y2="1233.65" stroke="#000" stroke-width="2.1"/>
<text transform="translate(62.6,1237.75) scale(1.03,1)" font-size="12" text-anchor="end">120</text>
<line x1="72.9" y1="1436.15" x2="72.9" y2="1443.65" stroke="#000" stroke-width="2.1"/>
<text transform="translate(72.9,1458) scale(1.03,1)" font-size="12" text-anchor="middle">0</text>
<line x1="83.86" y1="1436.15" x2="83.86" y2="1440.15" stroke="#000" stroke-width="2.1"/>
<line x1="94.82" y1="1436.15" x2="94.82" y2="1440.15" stroke="#000" stroke-width="2.1"/>
<line x1="105.78" y1="1436.15" x2="105.78" y2="1440.15" stroke="#000" stroke-width="2.1"/>
<line x1="116.74" y1="1436.15" x2="116.74" y2="1440.15" stroke="#000" stroke-width="2.1"/>
<line x1="127.7" y1="1436.15" x2="127.7" y2="1440.15" stroke="#000" stroke-width="2.1"/>
<line x1="138.66" y1="1436.15" x2="138.66" y2="1440.15" stroke="#000" stroke-width="2.1"/>
<line x1="149.62" y1="1436.15" x2="149.62" y2="1440.15" stroke="#000" stroke-width="2.1"/>
<line x1="160.58" y1="1436.15" x2="160.58" y2="1440.15" stroke="#000" stroke-width="2.1"/>
<line x1="171.54" y1="1436.15" x2="171.54" y2="1440.15" stroke="#000" stroke-width="2.1"/>
<line x1="182.5" y1="1436.15" x2="182.5" y2="1443.65" stroke="#000" stroke-width="2.1"/>
<text transform="translate(182.5,1458) scale(1.03,1)" font-size="12" text-anchor="middle">20</text>
<line x1="193.46" y1="1436.15" x2="193.46" y2="1440.15" stroke="#000" stroke-width="2.1"/>
<line x1="204.42" y1="1436.15" x2="204.42" y2="1440.15" stroke="#000" stroke-width="2.1"/>
<line x1="215.38" y1="1436.15" x2="215.38" y2="1440.15" stroke="#000" stroke-width="2.1"/>
<line x1="226.34" y1="1436.15" x2="226.34" y2="1440.15" stroke="#000" stroke-width="2.1"/>
<line x1="237.3" y1="1436.15" x2="237.3" y2="1440.15" stroke="#000" stroke-width="2.1"/>
<line x1="248.26" y1="1436.15" x2="248.26" y2="1440.15" stroke="#000" stroke-width="2.1"/>
<line x1="259.22" y1="1436.15" x2="259.22" y2="1440.15" stroke="#000" stroke-width="2.1"/>
<line x1="270.18" y1="1436.15" x2="270.18" y2="1440.15" stroke="#000" stroke-width="2.1"/>
<line x1="281.14" y1="1436.15" x2="281.14" y2="1440.15" stroke="#000" stroke-width="2.1"/>
<line x1="292.1" y1="1436.15" x2="292.1" y2="1443.65" stroke="#000" stroke-width="2.1"/>
<text transform="translate(292.1,1458) scale(1.03,1)" font-size="12" text-anchor="middle">40</text>
<line x1="303.06" y1="1436.15" x2="303.06" y2="1440.15" stroke="#000" stroke-width="2.1"/>
<line x1="314.02" y1="1436.15" x2="314.02" y2="1440.15" stroke="#000" stroke-width="2.1"/>
<line x1="324.98" y1="1436.15" x2="324.98" y2="1440.15" stroke="#000" stroke-width="2.1"/>
<line x1="335.94" y1="1436.15" x2="335.94" y2="1440.15" stroke="#000" stroke-width="2.1"/>
<line x1="346.9" y1="1436.15" x2="346.9" y2="1440.15" stroke="#000" stroke-width="2.1"/>
<line x1="357.86" y1="1436.15" x2="357.86" y2="1440.15" stroke="#000" stroke-width="2.1"/>
<line x1="368.82" y1="1436.15" x2="368.82" y2="1440.15" stroke="#000" stroke-width="2.1"/>
<line x1="379.78" y1="1436.15" x2="379.78" y2="1440.15" stroke="#000" stroke-width="2.1"/>
<line x1="390.74" y1="1436.15" x2="390.74" y2="1440.15" stroke="#000" stroke-width="2.1"/>
<line x1="401.7" y1="1436.15" x2="401.7" y2="1443.65" stroke="#000" stroke-width="2.1"/>
<text transform="translate(401.7,1458) scale(1.03,1)" font-size="12" text-anchor="middle">60</text>
<line x1="412.66" y1="1436.15" x2="412.66" y2="1440.15" stroke="#000" stroke-width="2.1"/>
<line x1="423.62" y1="1436.15" x2="423.62" y2="1440.15" stroke="#000" stroke-width="2.1"/>
<line x1="434.58" y1="1436.15" x2="434.58" y2="1440.15" stroke="#000" stroke-width="2.1"/>
<line x1="445.54" y1="1436.15" x2="445.54" y2="1440.15" stroke="#000" stroke-width="2.1"/>
<line x1="456.5" y1="1436.15" x2="456.5" y2="1440.15" stroke="#000" stroke-width="2.1"/>
<line x1="467.46" y1="1436.15" x2="467.46" y2="1440.15" stroke="#000" stroke-width="2.1"/>
<line x1="478.42" y1="1436.15" x2="478.42" y2="1440.15" stroke="#000" stroke-width="2.1"/>
<line x1="489.38" y1="1436.15" x2="489.38" y2="1440.15" stroke="#000" stroke-width="2.1"/>
<line x1="500.34" y1="1436.15" x2="500.34" y2="1440.15" stroke="#000" stroke-width="2.1"/>
<line x1="511.3" y1="1436.15" x2="511.3" y2="1443.65" stroke="#000" stroke-width="2.1"/>
<text transform="translate(511.3,1458) scale(1.03,1)" font-size="12" text-anchor="middle">80</text>
<text x="203.75" y="1479.5" font-size="13" text-anchor="start" textLength="178" lengthAdjust="spacingAndGlyphs">Time from diagnosis (days)</text>
<text transform="translate(33.1,1395.6) rotate(-90)" font-size="14" textLength="122.8" lengthAdjust="spacingAndGlyphs">Haemoglobin (g/L)</text>
<polyline points="78.38,1301.15 83.86,1324.78 89.34,1348.4 94.82,1348.4 100.3,1382.15 105.78,1311.28 111.26,1321.4 116.74,1345.03 122.22,1355.15 127.7,1297.78 133.18,1348.4 138.66,1358.53 144.14,1341.65 149.62,1338.28 155.1,1351.78 160.58,1324.78 166.06,1361.9 171.54,1365.28 177.02,1375.4 182.5,1392.28 187.98,1405.78 193.46,1415.9 198.94,1392.28 204.42,1412.53 209.9,1375.4 215.38,1378.78 237.3,1324.78 270.18,1301.15 324.98,1314.65 341.42,1328.15 346.9,1355.15 352.38,1361.9 357.86,1375.4 363.34,1372.03 368.82,1341.65 374.3,1361.9 379.78,1375.4 385.26,1348.4 390.74,1311.28 423.62,1345.03 456.5,1253.9" fill="none" stroke="#6fcf6f" stroke-width="1.1"/>
<circle cx="78.38" cy="1301.15" r="3.25" fill="#04c804" stroke="#009800" stroke-width="0.7"/>
<circle cx="83.86" cy="1324.78" r="3.25" fill="#04c804" stroke="#009800" stroke-width="0.7"/>
<circle cx="89.34" cy="1348.4" r="3.25" fill="#04c804" stroke="#009800" stroke-width="0.7"/>
<circle cx="94.82" cy="1348.4" r="3.25" fill="#04c804" stroke="#009800" stroke-width="0.7"/>
<circle cx="100.3" cy="1382.15" r="3.25" fill="#04c804" stroke="#009800" stroke-width="0.7"/>
<circle cx="105.78" cy="1311.28" r="3.25" fill="#04c804" stroke="#009800" stroke-width="0.7"/>
<circle cx="111.26" cy="1321.4" r="3.25" fill="#04c804" stroke="#009800" stroke-width="0.7"/>
<circle cx="116.74" cy="1345.03" r="3.25" fill="#04c804" stroke="#009800" stroke-width="0.7"/>
<circle cx="122.22" cy="1355.15" r="3.25" fill="#04c804" stroke="#009800" stroke-width="0.7"/>
<circle cx="127.7" cy="1297.78" r="3.25" fill="#04c804" stroke="#009800" stroke-width="0.7"/>
<circle cx="133.18" cy="1348.4" r="3.25" fill="#04c804" stroke="#009800" stroke-width="0.7"/>
<circle cx="138.66" cy="1358.53" r="3.25" fill="#04c804" stroke="#009800" stroke-width="0.7"/>
<circle cx="144.14" cy="1341.65" r="3.25" fill="#04c804" stroke="#009800" stroke-width="0.7"/>
<circle cx="149.62" cy="1338.28" r="3.25" fill="#04c804" stroke="#009800" stroke-width="0.7"/>
<circle cx="155.1" cy="1351.78" r="3.25" fill="#04c804" stroke="#009800" stroke-width="0.7"/>
<circle cx="160.58" cy="1324.78" r="3.25" fill="#04c804" stroke="#009800" stroke-width="0.7"/>
<circle cx="166.06" cy="1361.9" r="3.25" fill="#04c804" stroke="#009800" stroke-width="0.7"/>
<circle cx="171.54" cy="1365.28" r="3.25" fill="#04c804" stroke="#009800" stroke-width="0.7"/>
<circle cx="177.02" cy="1375.4" r="3.25" fill="#04c804" stroke="#009800" stroke-width="0.7"/>
<circle cx="182.5" cy="1392.28" r="3.25" fill="#04c804" stroke="#009800" stroke-width="0.7"/>
<circle cx="187.98" cy="1405.78" r="3.25" fill="#04c804" stroke="#009800" stroke-width="0.7"/>
<circle cx="193.46" cy="1415.9" r="3.25" fill="#04c804" stroke="#009800" stroke-width="0.7"/>
<circle cx="198.94" cy="1392.28" r="3.25" fill="#04c804" stroke="#009800" stroke-width="0.7"/>
<circle cx="204.42" cy="1412.53" r="3.25" fill="#04c804" stroke="#009800" stroke-width="0.7"/>
<circle cx="209.9" cy="1375.4" r="3.25" fill="#04c804" stroke="#009800" stroke-width="0.7"/>
<circle cx="215.38" cy="1378.78" r="3.25" fill="#04c804" stroke="#009800" stroke-width="0.7"/>
<circle cx="237.3" cy="1324.78" r="3.25" fill="#04c804" stroke="#009800" stroke-width="0.7"/>
<circle cx="270.18" cy="1301.15" r="3.25" fill="#04c804" stroke="#009800" stroke-width="0.7"/>
<circle cx="324.98" cy="1314.65" r="3.25" fill="#04c804" stroke="#009800" stroke-width="0.7"/>
<circle cx="341.42" cy="1328.15" r="3.25" fill="#04c804" stroke="#009800" stroke-width="0.7"/>
<circle cx="346.9" cy="1355.15" r="3.25" fill="#04c804" stroke="#009800" stroke-width="0.7"/>
<circle cx="352.38" cy="1361.9" r="3.25" fill="#04c804" stroke="#009800" stroke-width="0.7"/>
<circle cx="357.86" cy="1375.4" r="3.25" fill="#04c804" stroke="#009800" stroke-width="0.7"/>
<circle cx="363.34" cy="1372.03" r="3.25" fill="#04c804" stroke="#009800" stroke-width="0.7"/>
<circle cx="368.82" cy="1341.65" r="3.25" fill="#04c804" stroke="#009800" stroke-width="0.7"/>
<circle cx="374.3" cy="1361.9" r="3.25" fill="#04c804" stroke="#009800" stroke-width="0.7"/>
<circle cx="379.78" cy="1375.4" r="3.25" fill="#04c804" stroke="#009800" stroke-width="0.7"/>
<circle cx="385.26" cy="1348.4" r="3.25" fill="#04c804" stroke="#009800" stroke-width="0.7"/>
<circle cx="390.74" cy="1311.28" r="3.25" fill="#04c804" stroke="#009800" stroke-width="0.7"/>
<circle cx="423.62" cy="1345.03" r="3.25" fill="#04c804" stroke="#009800" stroke-width="0.7"/>
<circle cx="456.5" cy="1253.9" r="3.25" fill="#04c804" stroke="#009800" stroke-width="0.7"/>
</svg>
</body></html>
